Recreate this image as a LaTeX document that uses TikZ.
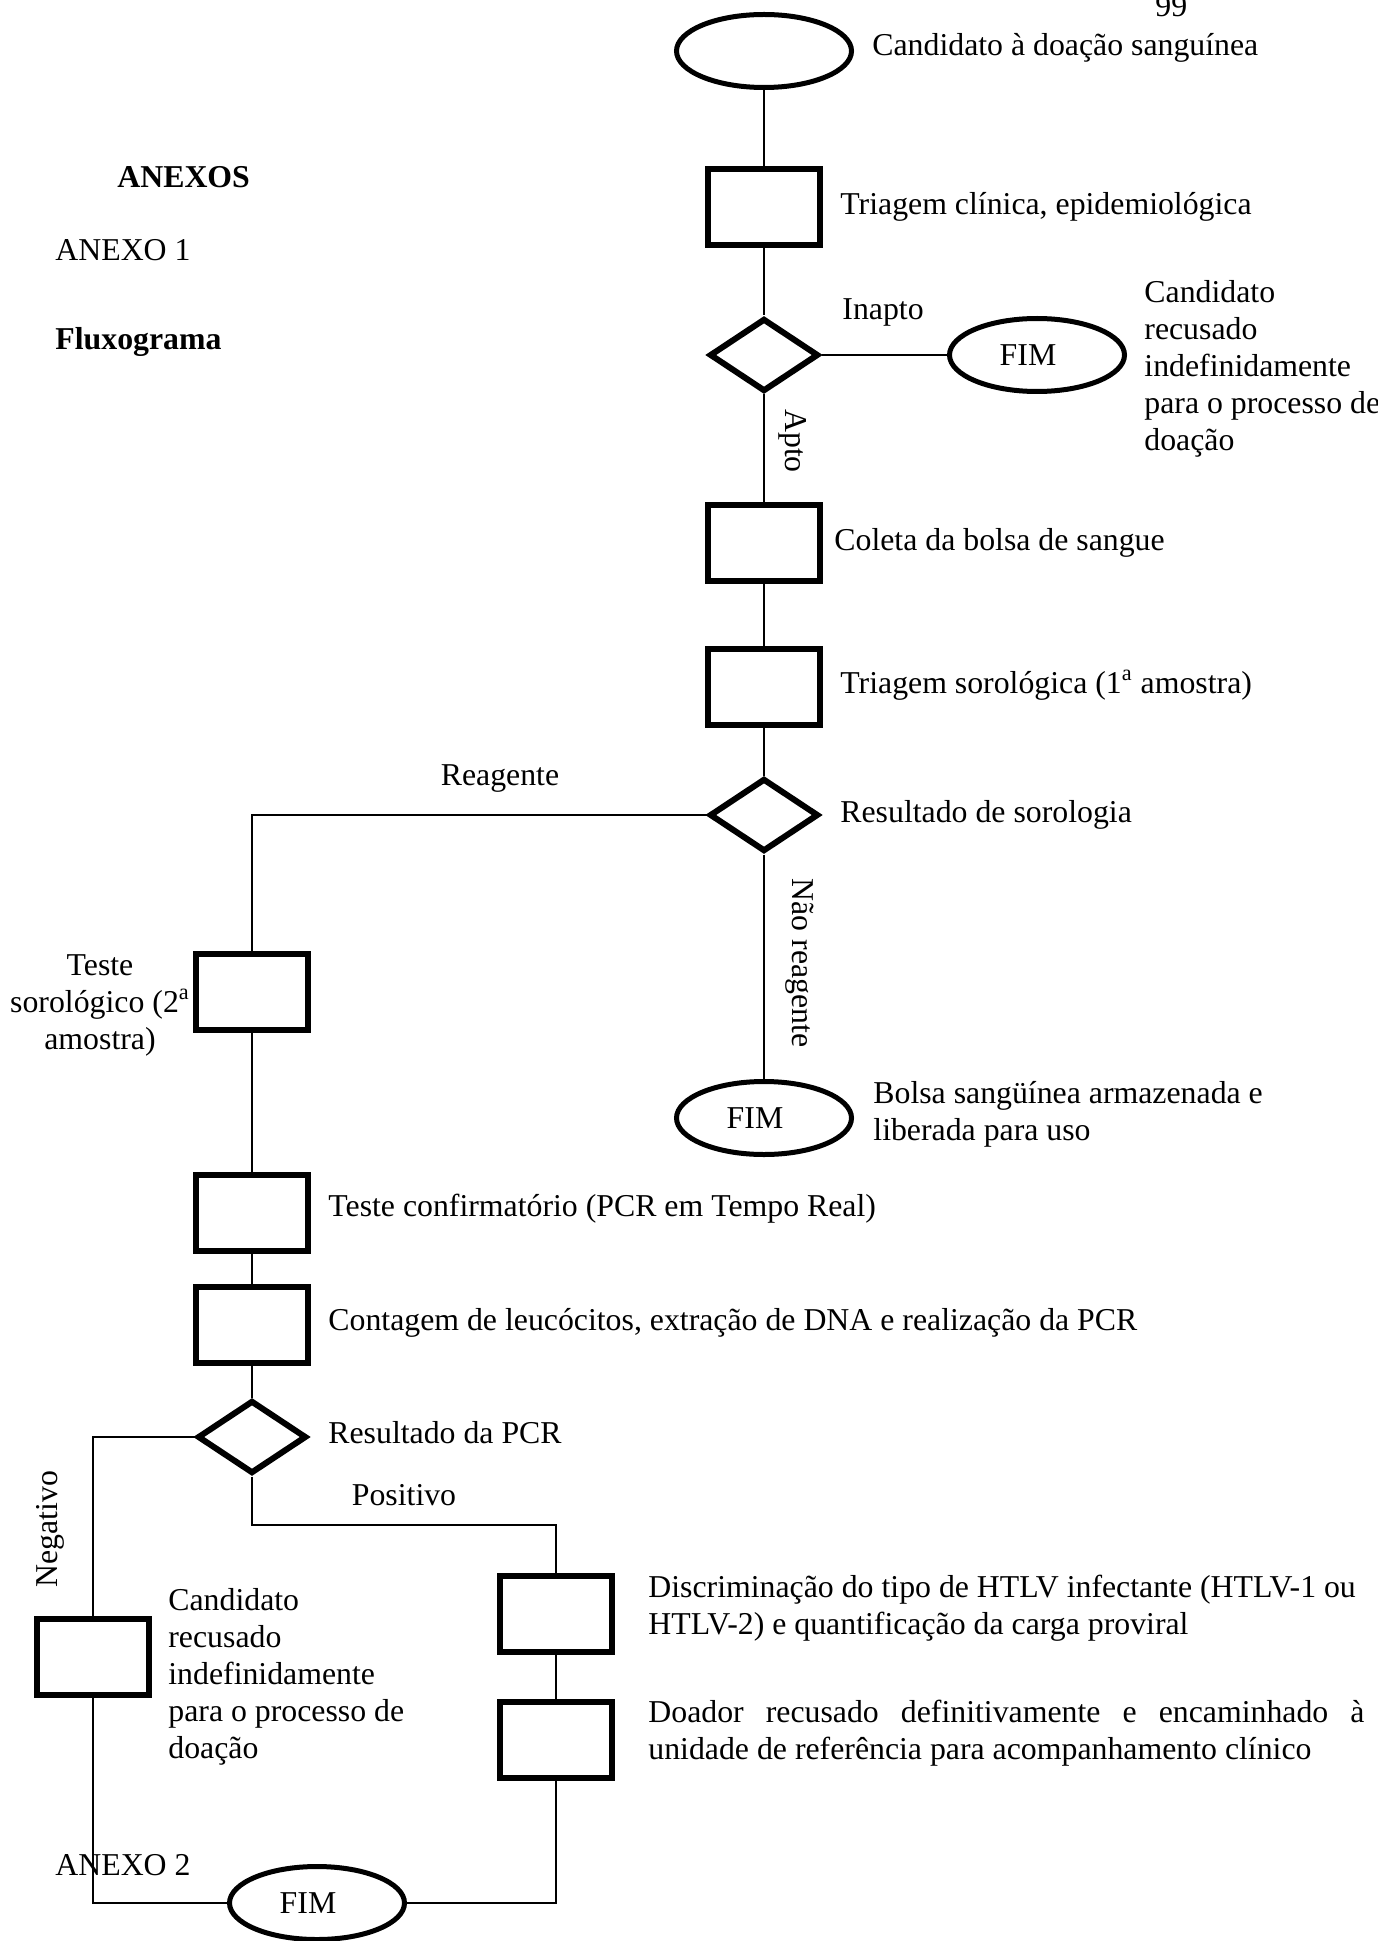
\documentclass[tikz,border=0pt]{standalone}
\usepackage{fontspec}
\setmainfont{Liberation Serif}
\usetikzlibrary{shapes.geometric}
\newcommand{\fs}{\fontsize{15.9pt}{18.5pt}\selectfont}
\newcommand{\lns}[1]{\begin{tabular}[t]{@{}l@{}}#1\end{tabular}}
\newcommand{\clns}[1]{\begin{tabular}[t]{@{}c@{}}#1\end{tabular}}
\begin{document}
\begin{tikzpicture}[x=0.5pt,y=-0.5pt,font=\fs,
  box/.style={draw,line width=3pt,minimum width=56pt,minimum height=37.8pt,inner sep=0pt},
  dec/.style={draw,diamond,line width=3pt,minimum width=54.5pt,minimum height=36.5pt,inner sep=0pt},
  term/.style={draw,ellipse,line width=2.5pt,minimum width=87.5pt,minimum height=36.5pt,inner sep=0pt},
  conn/.style={line width=1pt},
  lbl/.style={anchor=base west,inner sep=0pt},
  clbl/.style={anchor=base,inner sep=0pt},
  vlbl/.style={inner sep=0pt}]
\useasboundingbox (0,0) rectangle (1377,1941);
% shapes
\node[term] (start) at (764,51) {};
\node[box] (r1) at (764,207) {};
\node[dec] (d1) at (764,355) {};
\node[term] (fim1) at (1037,355) {FIM\hspace*{9pt}};
\node[box] (r2) at (764,543) {};
\node[box] (r3) at (764,687) {};
\node[dec] (d2) at (764,815) {};
\node[box] (r4) at (252,992) {};
\node[term] (fim2) at (764,1118) {FIM\hspace*{9pt}};
\node[box] (r5) at (252,1213) {};
\node[box] (r6) at (252,1325) {};
\node[dec] (d3) at (252,1437) {};
\node[box] (r7) at (93,1657) {};
\node[box] (r8) at (556,1614) {};
\node[box] (r9) at (556,1740) {};
\node[term] (fim3) at (317,1903) {FIM\hspace*{9pt}};
\coordinate (ppos) at (252,1525);
% connectors
\draw[conn] (start.south) -- (r1.north);
\draw[conn] (r1.south) -- (d1.north);
\draw[conn] (d1.east) -- (fim1.west);
\draw[conn] (d1.south) -- (r2.north);
\draw[conn] (r2.south) -- (r3.north);
\draw[conn] (r3.south) -- (d2.north);
\draw[conn] (d2.west) -| (r4.north);
\draw[conn] (d2.south) -- (fim2.north);
\draw[conn] (r4.south) -- (r5.north);
\draw[conn] (r5.south) -- (r6.north);
\draw[conn] (r6.south) -- (d3.north);
\draw[conn] (d3.west) -| (r7.north);
\draw[conn] (d3.south) -- (ppos) -| (r8.north);
\draw[conn] (r8.south) -- (r9.north);
\draw[conn] (r7.south) |- (fim3.west);
\draw[conn] (r9.south) |- (fim3.east);
% texts
\node[lbl] (t99) at (1155,17) {99};
\node[lbl,font=\fs\bfseries] (tanexos) at (117,188) {ANEXOS};
\node[lbl] (tanexo1) at (55,261) {ANEXO 1};
\node[lbl,font=\fs\bfseries] (tflux) at (55,350) {Fluxograma};
\node[lbl] (tstart) at (872,56) {Candidato à doação sanguínea};
\node[lbl] (tr1) at (840,215) {Triagem clínica, epidemiológica};
\node[lbl] (tinapto) at (842,320) {Inapto};
\node[lbl] (tfim1) at (1144,303) {\lns{Candidato\\recusado\\indefinidamente\\para o processo de\\doação}};
\node[vlbl,rotate=-90] (tapto) at (793,441) {Apto};
\node[lbl] (tr2) at (834,550) {Coleta da bolsa de sangue};
\node[lbl] (tr3) at (840,693) {Triagem sorológica (1\textsuperscript{a} amostra)};
\node[lbl] (td2) at (840,822) {Resultado de sorologia};
\node[clbl] (treag) at (500,785) {Reagente};
\node[clbl] (tr4) at (100,975) {\clns{Teste\\sorológico (2\textsuperscript{a}\\amostra)}};
\node[vlbl,rotate=-90] (tnreag) at (800,963) {Não reagente};
\node[lbl] (tfim2) at (873,1103) {\lns{Bolsa sangüínea armazenada e\\liberada para uso}};
\node[lbl] (tr5) at (328,1216) {Teste confirmatório (PCR em Tempo Real)};
\node[lbl] (tr6) at (328,1330) {Contagem de leucócitos, extração de DNA e realização da PCR};
\node[lbl] (td3) at (328,1443) {Resultado da PCR};
\node[clbl] (tpos) at (404,1505) {Positivo};
\node[vlbl,rotate=90] (tneg) at (50,1529) {Negativo};
\node[lbl] (tr7) at (168,1610) {\lns{Candidato\\recusado\\indefinidamente\\para o processo de\\doação}};
\node[lbl] (tr8) at (648,1597) {\lns{Discriminação do tipo de HTLV infectante (HTLV-1 ou\\HTLV-2) e quantificação da carga proviral}};
\node[lbl] (tr9) at (648,1722) {\lns{\makebox[358pt][s]{Doador recusado definitivamente e encaminhado à}\\unidade de referência para acompanhamento clínico}};
\node[lbl] (tanexo2) at (55,1875) {ANEXO 2};
\end{tikzpicture}
\end{document}
